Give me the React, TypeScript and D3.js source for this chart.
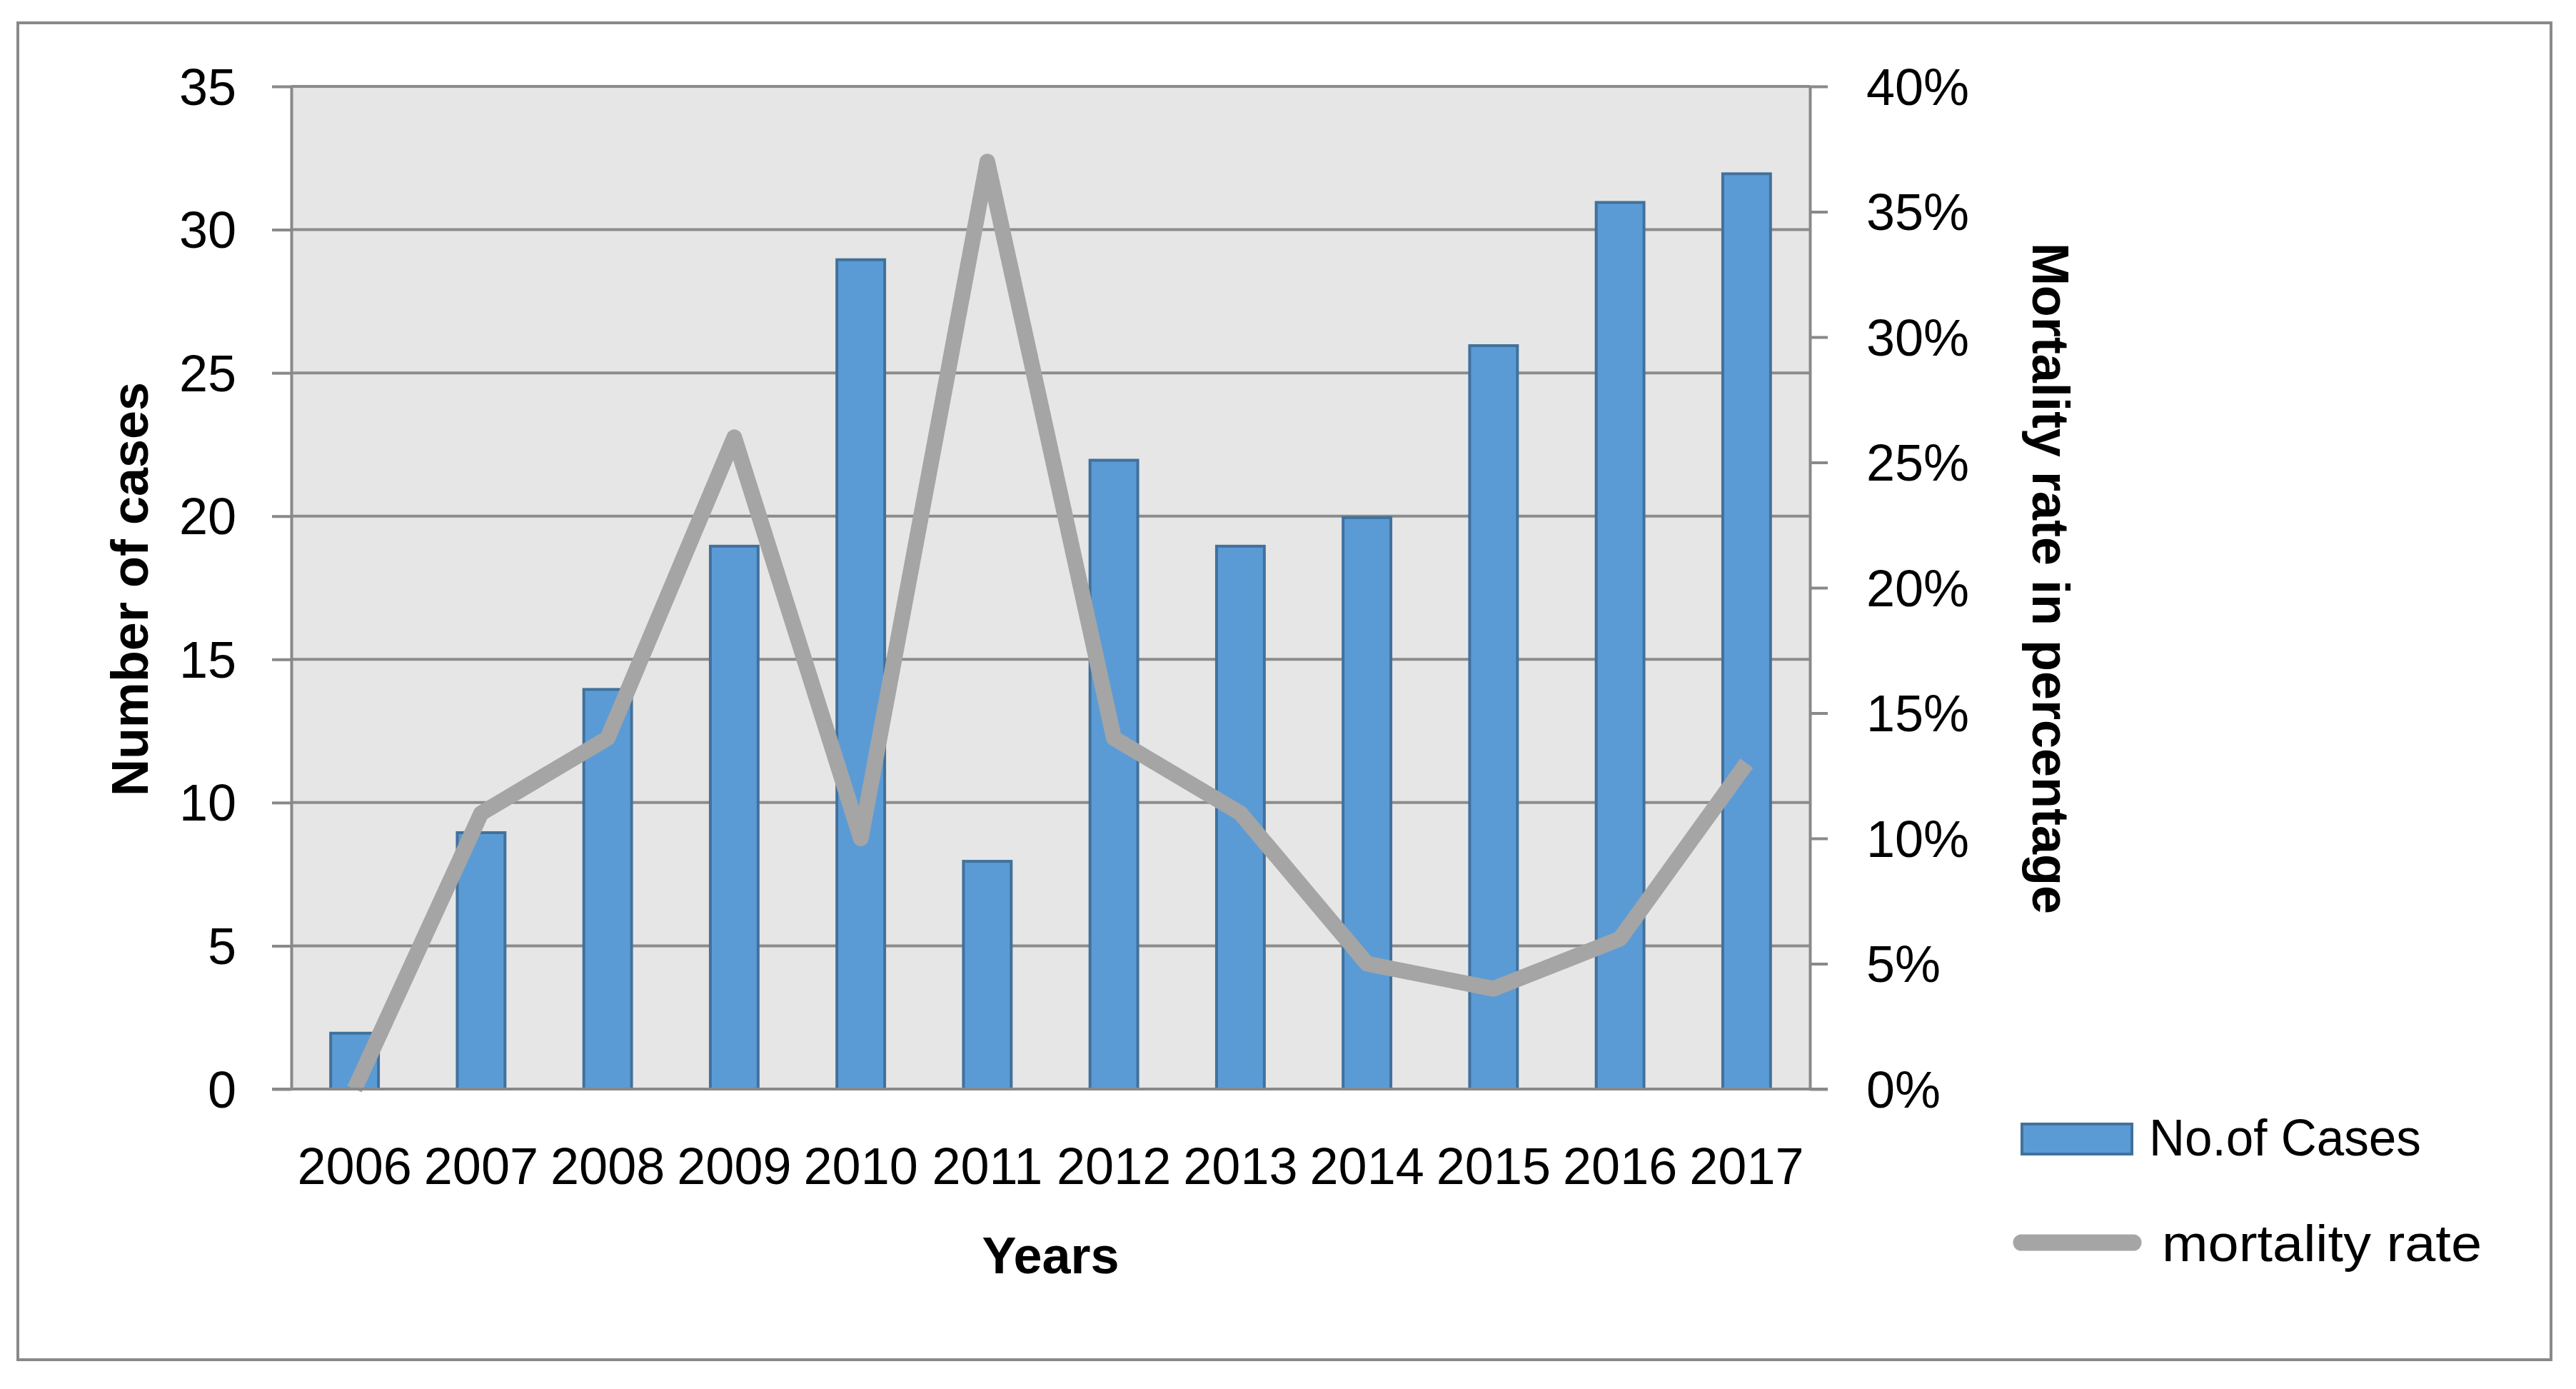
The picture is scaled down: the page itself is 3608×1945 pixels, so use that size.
import React, { useEffect, useRef } from "react";
import * as d3 from "d3";

const years = ["2006", "2007", "2008", "2009", "2010", "2011", "2012", "2013", "2014", "2015", "2016", "2017"];
const cases = [2, 9, 14, 19, 29, 8, 22, 19, 20, 26, 31, 32];
const mortalityRate = [0, 0.11, 0.14, 0.26, 0.1, 0.37, 0.14, 0.11, 0.05, 0.04, 0.06, 0.13];
const caseTicks = [0, 5, 10, 15, 20, 25, 30, 35];
const rateTicks = [0, 0.05, 0.1, 0.15, 0.2, 0.25, 0.3, 0.35, 0.4];
const seriesNames = ["No.of Cases", "mortality rate"];

const W = 3608;
const H = 1945;
const FONT = "'Liberation Sans', Arial, sans-serif";

const App: React.FC = () => {
  const svgRef = useRef<SVGSVGElement | null>(null);

  useEffect(() => {
    if (!svgRef.current) return;
    const svg = d3.select(svgRef.current);
    svg.selectAll("*").remove();

    // plot box
    const plot = { left: 408, right: 2535, top: 121, bottom: 1525 };

    const x = d3
      .scaleBand<string>()
      .domain(years)
      .range([plot.left, plot.right])
      .paddingInner(0.6)
      .paddingOuter(0.3);
    const yLeft = d3.scaleLinear().domain([0, 35]).range([plot.bottom, plot.top]);
    const yRight = d3.scaleLinear().domain([0, 0.4]).range([plot.bottom, plot.top]);

    // outer frame
    svg
      .append("rect")
      .attr("x", 25)
      .attr("y", 32)
      .attr("width", 3548)
      .attr("height", 1872)
      .attr("fill", "#fff")
      .attr("stroke", "#898989")
      .attr("stroke-width", 4);

    // plot background
    svg
      .append("rect")
      .attr("x", plot.left)
      .attr("y", plot.top)
      .attr("width", plot.right - plot.left)
      .attr("height", plot.bottom - plot.top)
      .attr("fill", "#e6e6e6");

    // gridlines
    svg
      .append("g")
      .selectAll("line")
      .data(caseTicks)
      .join("line")
      .attr("x1", plot.left)
      .attr("x2", plot.right)
      .attr("y1", (d) => yLeft(d))
      .attr("y2", (d) => yLeft(d))
      .attr("stroke", "#8c8c8c")
      .attr("stroke-width", 4);

    // bars
    const sw = 4;
    svg
      .append("g")
      .selectAll("rect")
      .data(cases)
      .join("rect")
      .attr("x", (_, i) => (x(years[i]) as number) + sw / 2)
      .attr("y", (d) => yLeft(d) + sw / 2)
      .attr("width", x.bandwidth() - sw)
      .attr("height", (d) => yLeft(0) - yLeft(d) - sw / 2)
      .attr("fill", "#5b9bd5")
      .attr("stroke", "#41719c")
      .attr("stroke-width", sw);

    // mortality line
    const line = d3
      .line<number>()
      .x((_, i) => (x(years[i]) as number) + x.bandwidth() / 2)
      .y((d) => yRight(d));
    svg
      .append("path")
      .datum(mortalityRate)
      .attr("fill", "none")
      .attr("stroke", "#a5a5a5")
      .attr("stroke-width", 22)
      .attr("stroke-linejoin", "round")
      .attr("d", line);

    // left axis
    const leftAxis = svg
      .append("g")
      .attr("transform", `translate(${plot.left},0)`)
      .call(
        d3
          .axisLeft(yLeft)
          .tickValues(caseTicks)
          .tickSize(27)
          .tickSizeOuter(0)
          .tickPadding(50)
      );

    // right axis
    const rightAxis = svg
      .append("g")
      .attr("transform", `translate(${plot.right},0)`)
      .call(
        d3
          .axisRight(yRight)
          .tickValues(rateTicks)
          .tickSize(25)
          .tickSizeOuter(0)
          .tickPadding(54)
          .tickFormat(d3.format(".0%"))
      );

    [leftAxis, rightAxis].forEach((g) => {
      g.select(".domain").attr("stroke", "#898989").attr("stroke-width", 4);
      g.selectAll(".tick line").attr("stroke", "#898989").attr("stroke-width", 4);
      g.selectAll(".tick text")
        .attr("dy", null)
        .attr("y", 25)
        .attr("fill", "#000")
        .style("font-family", FONT)
        .style("font-size", "72px");
    });

    // baseline across both axes
    svg
      .append("line")
      .attr("x1", plot.left - 27)
      .attr("x2", plot.right + 25)
      .attr("y1", plot.bottom)
      .attr("y2", plot.bottom)
      .attr("stroke", "#898989")
      .attr("stroke-width", 4);

    // bottom category labels
    const bottomAxis = svg
      .append("g")
      .attr("transform", `translate(0,${plot.bottom})`)
      .call(d3.axisBottom(x).tickSize(0).tickPadding(0));
    bottomAxis.select(".domain").remove();
    bottomAxis
      .selectAll(".tick text")
      .attr("dy", null)
      .attr("y", 133)
      .attr("fill", "#000")
      .style("font-family", FONT)
      .style("font-size", "72px");

    // axis titles
    const title = (t: string) =>
      svg
        .append("text")
        .text(t)
        .attr("text-anchor", "middle")
        .attr("fill", "#000")
        .style("font-family", FONT)
        .style("font-size", "72px")
        .style("font-weight", "bold");

    title("Years").attr("x", (plot.left + plot.right) / 2).attr("y", 1783);
    title("Number of cases").attr("transform", `translate(207,825) rotate(-90)`);
    title("Mortality rate in percentage").attr("transform", `translate(2847,810) rotate(90)`);

    // legend
    const legend = svg.append("g");
    legend
      .append("rect")
      .attr("x", 2832)
      .attr("y", 1574)
      .attr("width", 154)
      .attr("height", 42)
      .attr("fill", "#5b9bd5")
      .attr("stroke", "#41719c")
      .attr("stroke-width", 4);
    legend
      .append("line")
      .attr("x1", 2831)
      .attr("x2", 2988)
      .attr("y1", 1740)
      .attr("y2", 1740)
      .attr("stroke", "#a5a5a5")
      .attr("stroke-width", 23)
      .attr("stroke-linecap", "round");
    legend
      .selectAll("text")
      .data(seriesNames)
      .join("text")
      .text((d) => d)
      .attr("x", (_, i) => (i === 0 ? 3010 : 3028))
      .attr("y", (_, i) => (i === 0 ? 1618 : 1766))
      .attr("textLength", (_, i) => (i === 0 ? 381 : 448))
      .attr("lengthAdjust", "spacingAndGlyphs")
      .attr("fill", "#000")
      .style("font-family", FONT)
      .style("font-size", "72px");
  }, []);

  return (
    <svg
      ref={svgRef}
      width={W}
      height={H}
      style={{ position: "absolute", left: 0, top: 0, background: "#fff" }}
    ></svg>
  );
};

export default App;
